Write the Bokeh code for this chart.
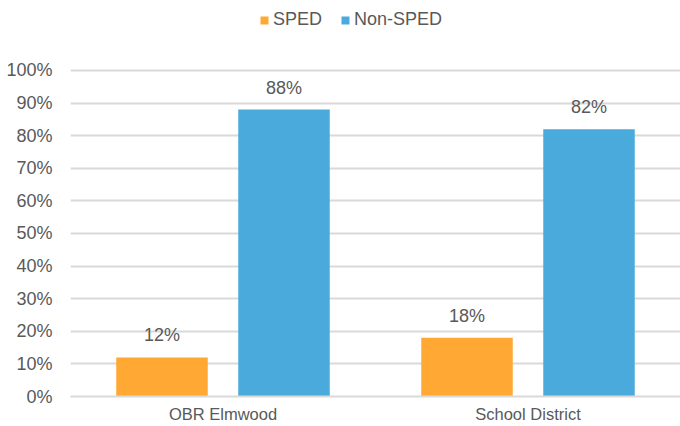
from bokeh.plotting import figure
from bokeh.models import ColumnDataSource, FactorRange, Range1d, Legend, LegendItem, FixedTicker, CustomJSTickFormatter
from bokeh.transform import dodge
from bokeh.core.properties import value
from bokeh.embed import file_html
from bokeh.resources import INLINE

categories = ["OBR Elmwood", "School District"]
sped = [12, 18]
non_sped = [88, 82]
series_names = ["SPED", "Non-SPED"]
y_ticks = [0, 10, 20, 30, 40, 50, 60, 70, 80, 90, 100]

ORANGE = "#FFA833"
BLUE = "#4AAADB"
TXT = "#595959"
GRID = "#D9D9D9"
FONT = "Liberation Sans"
FS = "18px"
FS_CAT = "16.5px"

src = ColumnDataSource(dict(
    cat=categories,
    sped=sped,
    non=non_sped,
    sped_lbl=[f"{v:.0f}%" for v in sped],
    non_lbl=[f"{v:.0f}%" for v in non_sped],
))

# frame spans full top; y range extended so 100% sits 70px below top (room for legend)
p = figure(width=680, height=426, output_backend="svg", toolbar_location=None,
           x_range=FactorRange(*categories, range_padding=0), y_range=Range1d(0, 121.47),
           min_border_left=70, min_border_right=0, min_border_top=0, min_border_bottom=30)
p.outline_line_color = None
p.background_fill_color = "white"
p.border_fill_color = "white"

r1 = p.vbar(x=dodge("cat", -0.2, range=p.x_range), top="sped", width=0.3, source=src,
            fill_color=ORANGE, line_color=None)
r2 = p.vbar(x=dodge("cat", 0.2, range=p.x_range), top="non", width=0.3, source=src,
            fill_color=BLUE, line_color=None)

for col, lbl, off in (("sped", "sped_lbl", -0.2), ("non", "non_lbl", 0.2)):
    p.text(x=dodge("cat", off, range=p.x_range), y=col, text=lbl, source=src,
           text_align="center", text_baseline="middle", y_offset=-22,
           text_font=value(FONT), text_font_size=FS, text_color=TXT)

p.yaxis.ticker = FixedTicker(ticks=y_ticks)
p.yaxis.formatter = CustomJSTickFormatter(code="return tick.toFixed(0) + '%';")
p.yaxis.axis_line_color = None
p.yaxis.major_tick_line_color = None
p.yaxis.minor_tick_line_color = None
p.yaxis.major_tick_out = 0
p.yaxis.major_label_standoff = 18
p.yaxis.major_label_text_font = FONT
p.yaxis.major_label_text_font_size = FS
p.yaxis.major_label_text_color = TXT

p.xaxis.axis_line_color = GRID
p.xaxis.axis_line_width = 2
p.xaxis.major_tick_line_color = None
p.xaxis.minor_tick_line_color = None
p.xaxis.major_tick_out = 0
p.xaxis.major_label_standoff = 8
p.xaxis.major_label_text_font = FONT
p.xaxis.major_label_text_font_size = FS_CAT
p.xaxis.major_label_text_color = TXT

p.xgrid.grid_line_color = None
p.ygrid.grid_line_color = GRID
p.ygrid.grid_line_width = 2

legend = Legend(items=[LegendItem(label=series_names[0], renderers=[r1]),
                       LegendItem(label=series_names[1], renderers=[r2])],
                orientation="horizontal", location=(189, 366),
                glyph_width=10, glyph_height=10, label_standoff=4, spacing=18,
                label_text_font=FONT, label_text_font_size=FS, label_text_color=TXT,
                label_height=20, padding=0, margin=0, border_line_color=None,
                background_fill_alpha=0)
p.add_layout(legend, "center")

open("out.html", "w").write(file_html(p, INLINE))
